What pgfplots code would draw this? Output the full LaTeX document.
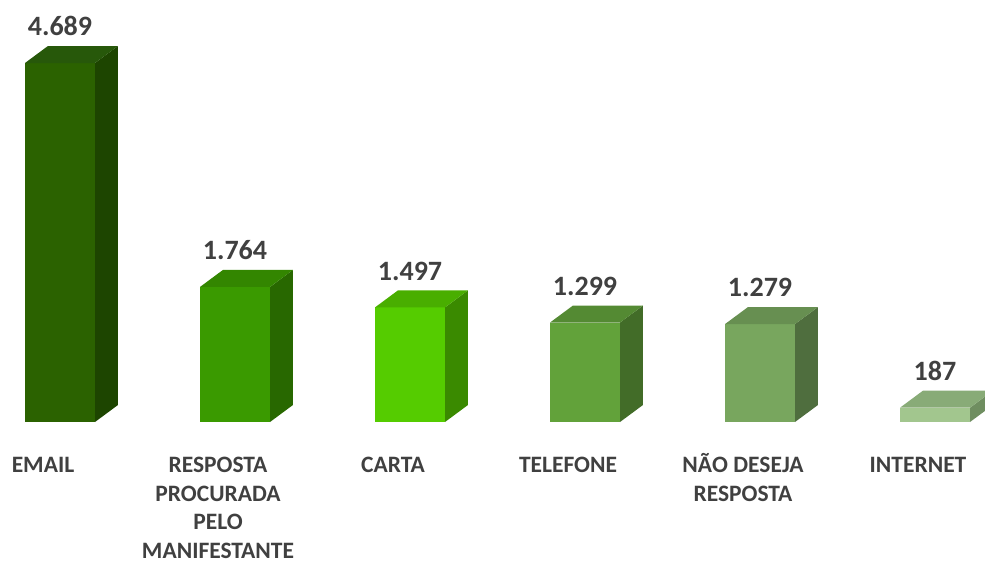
\documentclass[border=0pt]{standalone}
\usepackage{pgfplots}
\pgfplotsset{compat=1.18}
\usepackage{fontspec}
\setmainfont{Carlito}
\definecolor{txt}{HTML}{404040}
% EMAIL
\definecolor{aF}{HTML}{2B6200}\definecolor{aT}{HTML}{27580A}\definecolor{aS}{HTML}{1D4500}
% RESPOSTA
\definecolor{bF}{HTML}{3A9A00}\definecolor{bT}{HTML}{338600}\definecolor{bS}{HTML}{286800}
% CARTA
\definecolor{cF}{HTML}{55CC00}\definecolor{cT}{HTML}{49AE00}\definecolor{cS}{HTML}{3A8A00}
% TELEFONE
\definecolor{dF}{HTML}{62A23A}\definecolor{dT}{HTML}{548A33}\definecolor{dS}{HTML}{426C28}
% NAO DESEJA
\definecolor{eF}{HTML}{78A65E}\definecolor{eT}{HTML}{678F51}\definecolor{eS}{HTML}{4F6E3E}
% INTERNET
\definecolor{fF}{HTML}{A2C68E}\definecolor{fT}{HTML}{88AB77}\definecolor{fS}{HTML}{6F8E60}
\begin{document}
\begin{tikzpicture}
\begin{axis}[
  scale only axis,
  width=985pt, height=422pt,
  xmin=-0.342857, xmax=5.285714,
  ymin=0, ymax=5512,
  clip=false,
  axis line style={draw=none},
  tick style={draw=none},
  major tick length=0pt,
  ytick=\empty,
  xtick={0,1,2,3,4,5},
  xticklabels={EMAIL,{RESPOSTA\\PROCURADA\\PELO\\MANIFESTANTE},CARTA,TELEFONE,{N\smash{Ã}O DESEJA\\RESPOSTA},INTERNET},
  xticklabel style={font=\fontsize{23.5}{28.5}\selectfont\bfseries, text=txt, align=center,
    anchor=north, inner sep=0pt, text depth=0pt, xshift=-17pt, yshift=-35pt},
]
\coordinate (bl) at (axis cs:-0.342857,-1841.6);
\coordinate (tr) at (axis cs:5.285714,5512);
% EMAIL 4689
\addplot[fill=aF, draw=none] coordinates {(-0.2,0) (0.2,0) (0.2,4689) (-0.2,4689)} -- cycle;
\addplot[fill=aS, draw=none] coordinates {(0.2,0) (0.331,222) (0.331,4911) (0.2,4689)} -- cycle;
\addplot[fill=aT, draw=none] coordinates {(-0.2,4689) (0.2,4689) (0.331,4911) (-0.069,4911)} -- cycle;
% RESPOSTA 1764
\addplot[fill=bF, draw=none] coordinates {(0.8,0) (1.2,0) (1.2,1764) (0.8,1764)} -- cycle;
\addplot[fill=bS, draw=none] coordinates {(1.2,0) (1.331,222) (1.331,1986) (1.2,1764)} -- cycle;
\addplot[fill=bT, draw=none] coordinates {(0.8,1764) (1.2,1764) (1.331,1986) (0.931,1986)} -- cycle;
% CARTA 1497
\addplot[fill=cF, draw=none] coordinates {(1.8,0) (2.2,0) (2.2,1497) (1.8,1497)} -- cycle;
\addplot[fill=cS, draw=none] coordinates {(2.2,0) (2.331,222) (2.331,1719) (2.2,1497)} -- cycle;
\addplot[fill=cT, draw=none] coordinates {(1.8,1497) (2.2,1497) (2.331,1719) (1.931,1719)} -- cycle;
% TELEFONE 1299
\addplot[fill=dF, draw=none] coordinates {(2.8,0) (3.2,0) (3.2,1299) (2.8,1299)} -- cycle;
\addplot[fill=dS, draw=none] coordinates {(3.2,0) (3.331,222) (3.331,1521) (3.2,1299)} -- cycle;
\addplot[fill=dT, draw=none] coordinates {(2.8,1299) (3.2,1299) (3.331,1521) (2.931,1521)} -- cycle;
% NAO DESEJA 1279
\addplot[fill=eF, draw=none] coordinates {(3.8,0) (4.2,0) (4.2,1279) (3.8,1279)} -- cycle;
\addplot[fill=eS, draw=none] coordinates {(4.2,0) (4.331,222) (4.331,1501) (4.2,1279)} -- cycle;
\addplot[fill=eT, draw=none] coordinates {(3.8,1279) (4.2,1279) (4.331,1501) (3.931,1501)} -- cycle;
% INTERNET 187
\addplot[fill=fF, draw=none] coordinates {(4.8,0) (5.2,0) (5.2,187) (4.8,187)} -- cycle;
\addplot[fill=fS, draw=none] coordinates {(5.2,0) (5.331,222) (5.331,409) (5.2,187)} -- cycle;
\addplot[fill=fT, draw=none] coordinates {(4.8,187) (5.2,187) (5.331,409) (4.931,409)} -- cycle;
% value labels
\addplot[draw=none, mark=none, point meta=explicit symbolic,
  nodes near coords,
  every node near coord/.style={anchor=south, inner sep=0pt, yshift=10pt,
    font=\fontsize{28}{30}\selectfont\bfseries, text=txt}]
  coordinates {(0,4911)[4.689] (1,1986)[1.764] (2,1719)[1.497] (3,1521)[1.299] (4,1501)[1.279] (5,409)[187]};
\end{axis}
\pgfresetboundingbox
\path (bl) rectangle (tr);
\end{tikzpicture}
\end{document}
